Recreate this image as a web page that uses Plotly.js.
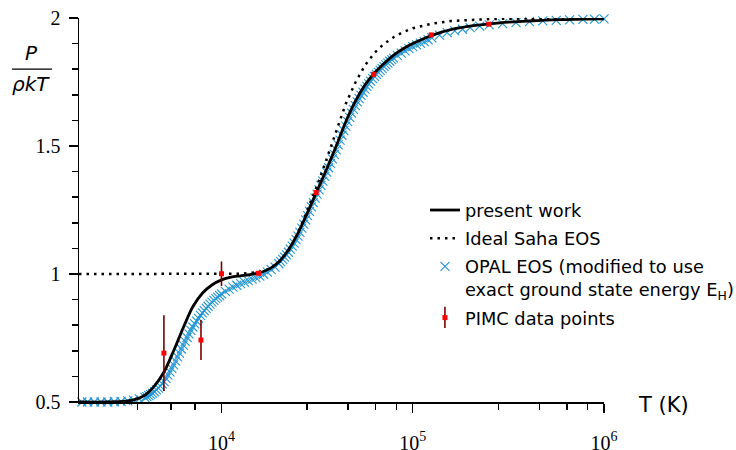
<!DOCTYPE html>
<html><head><meta charset="utf-8">
<script src="https://cdn.plot.ly/plotly-3.0.1.min.js"></script>
<style>html,body{margin:0;padding:0;background:#fff}#chart{width:736px;height:450px}</style>
</head><body><div id="chart"></div>
<script>
// ---- data (log10 of temperature in K, and P/(rho k T)) ----
const presentLogT = [3.255,3.40,3.50,3.55,3.60,3.65,3.70,3.75,3.80,3.85,3.90,3.95,4.00,4.05,4.10,4.15,4.20,4.25,4.30,4.35,4.40,4.45,4.50,4.55,4.60,4.65,4.70,4.75,4.80,4.85,4.90,4.95,5.00,5.05,5.10,5.15,5.20,5.30,5.40,5.50,5.60,5.70,5.80,5.90,6.00];
const presentP    = [0.500,0.500,0.503,0.510,0.527,0.563,0.618,0.700,0.790,0.872,0.925,0.957,0.977,0.988,0.993,0.998,1.005,1.020,1.048,1.095,1.160,1.240,1.325,1.410,1.500,1.595,1.675,1.738,1.785,1.822,1.855,1.880,1.900,1.917,1.932,1.945,1.955,1.968,1.977,1.984,1.988,1.992,1.994,1.996,1.997];

const sahaLogT = [3.255,4.00,4.10,4.20,4.25,4.30,4.35,4.40,4.45,4.50,4.55,4.60,4.65,4.70,4.75,4.80,4.85,4.90,4.95,5.00,5.05,5.10,5.20,5.30,5.40,5.60,6.00];
const sahaP    = [1.000,1.000,1.001,1.008,1.020,1.045,1.090,1.160,1.250,1.345,1.450,1.560,1.665,1.748,1.815,1.864,1.899,1.925,1.945,1.960,1.970,1.978,1.988,1.993,1.996,1.998,2.000];

const opalLogT = [3.27,3.30,3.335,3.37,3.405,3.44,3.475,3.51,3.54,3.57,
 3.60,3.61,3.62,3.63,3.64,3.65,3.66,3.67,3.68,3.69,3.70,3.71,3.72,3.73,3.74,3.75,3.76,3.77,3.78,3.79,
 3.80,3.81,3.82,3.83,3.84,3.85,3.86,3.87,3.88,3.89,3.90,3.91,3.92,3.93,3.94,3.95,3.96,3.97,3.98,3.99,4.00,
 4.02,4.04,4.06,4.08,4.10,4.12,4.14,4.16,4.18,4.20,4.22,4.24,4.26,4.28,4.30,
 4.31,4.32,4.33,4.34,4.35,4.36,4.37,4.38,4.39,4.40,4.41,4.42,4.43,4.44,4.45,4.46,4.47,4.48,4.49,4.50,
 4.51,4.52,4.53,4.54,4.55,4.56,4.57,4.58,4.59,4.60,4.61,4.62,4.63,4.64,4.65,4.66,4.67,4.68,4.69,4.70,
 4.71,4.72,4.73,4.74,4.75,4.76,4.77,4.78,4.79,4.80,4.81,4.82,4.83,4.84,4.85,4.86,4.87,4.88,4.89,4.90,
 4.92,4.94,4.96,4.98,5.00,5.02,5.04,5.06,5.08,5.10,
 5.14,5.18,5.22,5.26,5.30,5.35,5.40,5.47,5.54,5.61,5.68,5.75,5.82,5.89,5.95,6.00];
const opalP = [0.500,0.500,0.500,0.500,0.500,0.501,0.502,0.504,0.507,0.512,
 0.518,0.521,0.525,0.529,0.534,0.540,0.547,0.554,0.562,0.571,0.580,0.592,0.605,0.618,0.631,0.645,0.660,0.676,0.691,0.707,
 0.722,0.737,0.752,0.766,0.780,0.793,0.805,0.816,0.827,0.838,0.848,0.857,0.866,0.874,0.882,0.890,0.897,0.904,0.910,0.916,0.922,
 0.932,0.941,0.949,0.956,0.962,0.968,0.974,0.980,0.986,0.992,0.999,1.007,1.017,1.027,1.040,
 1.048,1.057,1.066,1.075,1.085,1.097,1.109,1.121,1.134,1.148,1.163,1.179,1.195,1.211,1.228,1.245,1.262,1.279,1.296,1.312,
 1.329,1.346,1.363,1.381,1.398,1.415,1.432,1.450,1.467,1.485,1.504,1.523,1.542,1.560,1.578,1.595,1.612,1.628,1.643,1.658,
 1.672,1.685,1.698,1.710,1.722,1.733,1.743,1.753,1.763,1.772,1.780,1.788,1.795,1.803,1.810,1.817,1.824,1.831,1.837,1.843,
 1.853,1.863,1.872,1.880,1.888,1.895,1.902,1.908,1.915,1.922,
 1.933,1.943,1.950,1.956,1.962,1.968,1.973,1.978,1.982,1.986,1.989,1.991,1.993,1.995,1.996,1.997];

const pimcT   = [5000,7812.5,10000,15625,31250,62500,125000,250000];
const pimcP   = [0.691,0.742,1.001,1.003,1.318,1.780,1.934,1.976];
const pimcErr = [0.148,0.078,0.048,0.006,0.006,0.005,0.004,0.004];

const xMajorTicks = [1e4,1e5,1e6];
const xMajorText  = ['10<sup>4</sup>','10<sup>5</sup>','10<sup>6</sup>'];
const xMinorTicks = [3630,5460,7270,28000,46000,64000,82000,280000,460000,640000,820000];
const yTicks = [0.5,1,1.5,2];
const yTickText = ['0.5','1','1.5','2'];

const toT = a => a.map(v => Math.pow(10, v));

const traces = [
  {x: toT(opalLogT), y: opalP, type:'scatter', mode:'markers', name:'OPAL EOS (modified to use<br>exact ground state energy E<sub>H</sub>)',
   marker:{symbol:'x-thin', size:9, line:{width:1.1, color:'#2496d4'}, color:'#2496d4'}, cliponaxis:false,
   legendgroup:'c', legendrank:3},
  {x: toT(sahaLogT), y: sahaP, type:'scatter', mode:'lines', name:'Ideal Saha EOS',
   line:{color:'#000', width:2.5, dash:'2.5px,5px'}, cliponaxis:false, legendgroup:'b', legendrank:2},
  {x: toT(presentLogT), y: presentP, type:'scatter', mode:'lines', name:'present work',
   line:{color:'#000', width:2.8, shape:'spline', smoothing:0.8}, cliponaxis:false, legendgroup:'a', legendrank:1},
  {x: pimcT, y: pimcP, type:'scatter', mode:'markers', name:'PIMC data points',
   marker:{symbol:'square', size:5, color:'#ff0000'},
   error_y:{type:'data', array:pimcErr, visible:true, color:'#7a0000', thickness:1.6, width:0},
   cliponaxis:false, legendgroup:'d', legendrank:4}
];

const serif = 'Liberation Serif, Times New Roman, serif';
const sans = 'DejaVu Sans, sans-serif';

const layout = {
  width:736, height:450,
  margin:{l:79, r:132, t:18, b:48, pad:0, autoexpand:false},
  paper_bgcolor:'#fff', plot_bgcolor:'#fff',
  showlegend:true,
  legend:{x:0.659, y:0.547, xanchor:'left', yanchor:'top', bgcolor:'rgba(0,0,0,0)',
          font:{family:sans, size:17.8, color:'#000'}, valign:'top', tracegroupgap:2, traceorder:'grouped'},
  xaxis:{type:'log', range:[3.255, 6], showline:true, linecolor:'#000', linewidth:1.5,
         showgrid:false, zeroline:false, ticks:'outside', ticklen:9, tickwidth:1.5, tickcolor:'#000',
         tickmode:'array', tickvals:xMajorTicks, ticktext:xMajorText, ticklabelstandoff:13,
         tickfont:{family:serif, size:20, color:'#000'},
         minor:{tickmode:'array', tickvals:xMinorTicks, ticks:'outside', ticklen:6, tickwidth:1.5, tickcolor:'#000', showgrid:false}},
  yaxis:{range:[0.5, 2], showline:true, linecolor:'#000', linewidth:1.5,
         showgrid:false, zeroline:false, ticks:'outside', ticklen:9, tickwidth:1.5, tickcolor:'#000',
         tickmode:'array', tickvals:yTicks, ticktext:yTickText, ticklabelstandoff:4,
         tickfont:{family:serif, size:20, color:'#000'},
         minor:{dtick:0.1, ticks:'outside', ticklen:5.5, tickwidth:1.5, tickcolor:'#000', showgrid:false}},
  annotations:[
    {xref:'paper', yref:'paper', x:-0.0914, y:0.909, text:'<i>P</i>', showarrow:false,
     font:{family:sans, size:20, color:'#000'}, xanchor:'center', yanchor:'middle'},
    {xref:'paper', yref:'paper', x:-0.0914, y:0.828, text:'<i>ρkT</i>', showarrow:false,
     font:{family:sans, size:20, color:'#000'}, xanchor:'center', yanchor:'middle'},
    {xref:'paper', yref:'paper', x:1.114, y:-0.008, text:'T (K)', showarrow:false,
     font:{family:sans, size:21, color:'#000'}, xanchor:'center', yanchor:'middle'}
  ],
  shapes:[
    {type:'line', xref:'paper', yref:'paper', x0:-0.1276, x1:-0.0514, y0:0.867, y1:0.867,
     line:{color:'#000', width:1.3}},
    // vertical error-bar stroke of the PIMC legend symbol
    {type:'line', xref:'paper', yref:'paper', x0:0.697, x1:0.697, y0:0.193, y1:0.248,
     line:{color:'#7a0000', width:1.6}, layer:'above'}
  ]
};

Plotly.newPlot('chart', traces, layout, {displayModeBar:false, staticPlot:true});
</script>
</body></html>
